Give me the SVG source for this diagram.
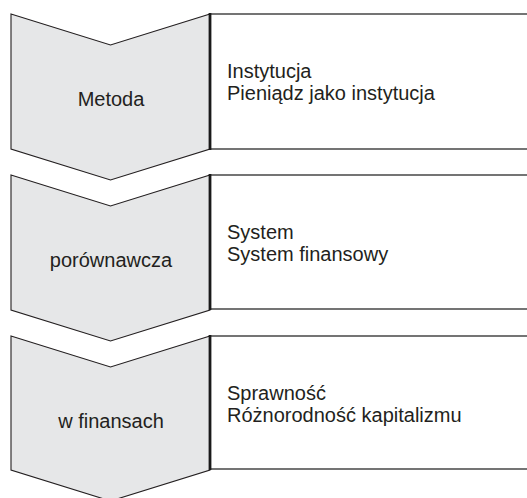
<svg xmlns="http://www.w3.org/2000/svg" width="527" height="498" viewBox="0 0 527 498">
<style>
.chev{fill:#e6e7e8;stroke:#231f20;stroke-width:1.1;stroke-linejoin:miter}
.box{fill:#ffffff;stroke:#3a3a3a;stroke-width:1.4}
.edge{stroke:#1a1a1a;stroke-width:2.8;fill:none}
.lbl{font-family:"Liberation Sans",Arial,sans-serif;font-size:20px;fill:#231f20}
.mid{text-anchor:middle}
</style>
<rect width="527" height="498" fill="#ffffff"/>
<g id="node1">
<path class="chev" d="M11,14 L110.5,45 L210,14 L210,149 L110.5,180 L11,149 Z"/>
<text class="lbl mid" x="111" y="106">Metoda</text>
</g>
<g id="node2">
<path class="chev" d="M11,175 L110.5,206 L210,175 L210,310 L110.5,341 L11,310 Z"/>
<text class="lbl mid" x="111" y="267">porównawcza</text>
</g>
<g id="node3">
<path class="chev" d="M11,336 L110.5,367 L210,336 L210,470 L110.5,501 L11,470 Z"/>
<text class="lbl mid" x="111" y="428">w finansach</text>
</g>
<g id="box1">
<rect class="box" x="210" y="14" width="330" height="135"/>
<line class="edge" x1="210" y1="13" x2="210" y2="150"/>
<text class="lbl" x="227" y="78">Instytucja</text>
<text class="lbl" x="227" y="100">Pieniądz jako instytucja</text>
</g>
<g id="box2">
<rect class="box" x="210" y="175" width="330" height="134"/>
<line class="edge" x1="210" y1="174" x2="210" y2="310"/>
<text class="lbl" x="227" y="239">System</text>
<text class="lbl" x="227" y="261">System finansowy</text>
</g>
<g id="box3">
<rect class="box" x="210" y="336" width="330" height="133"/>
<line class="edge" x1="210" y1="335" x2="210" y2="470"/>
<text class="lbl" x="227" y="400">Sprawność</text>
<text class="lbl" x="227" y="422">Różnorodność kapitalizmu</text>
</g>
<g id="connectors"></g>
</svg>
